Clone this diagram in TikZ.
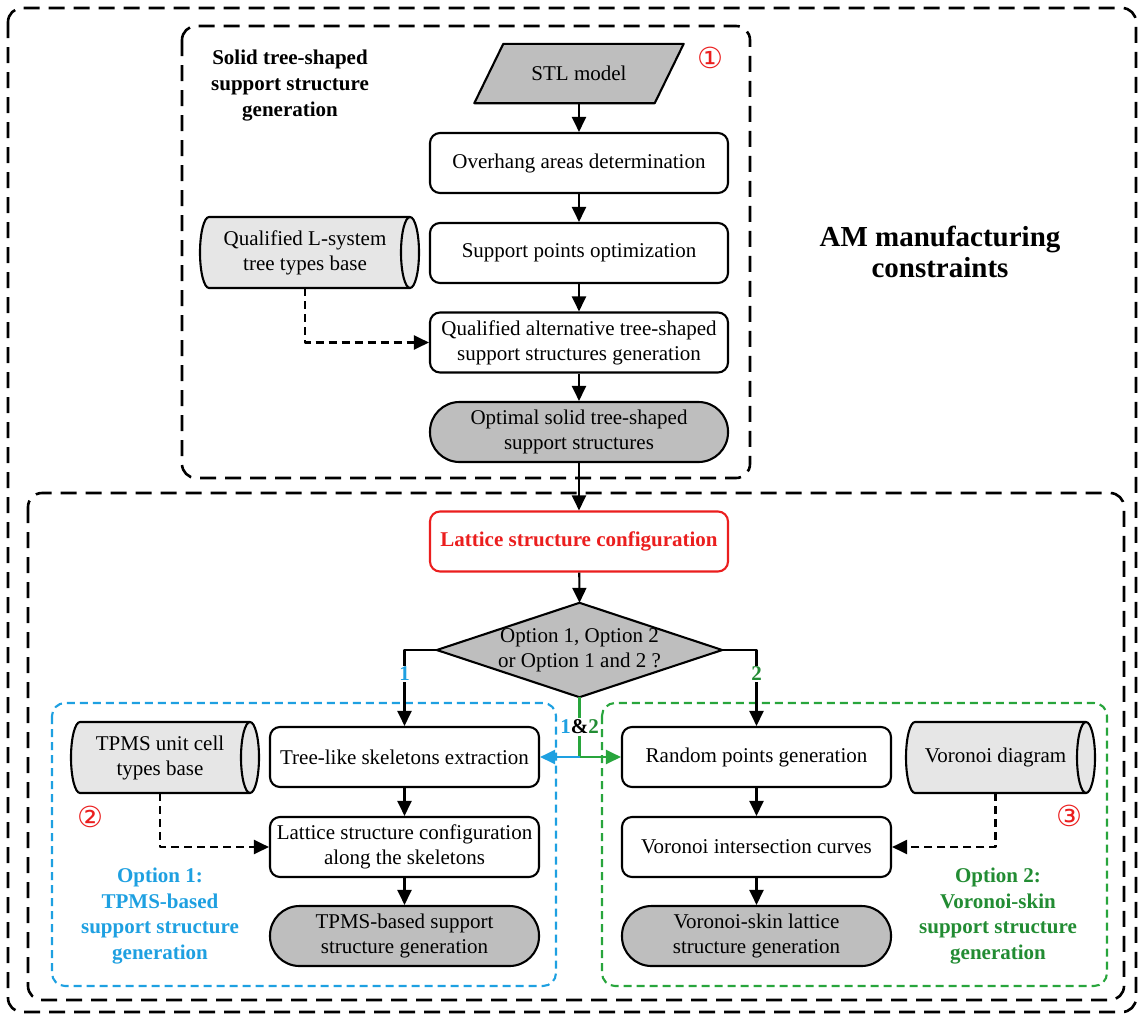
\documentclass[tikz,border=0pt]{standalone}
\usepackage{fontspec}
\setmainfont{Liberation Serif}
\newfontfamily\symfont{DejaVu Sans}
\usetikzlibrary{arrows.meta}
\definecolor{myblue}{RGB}{30,160,225}
\definecolor{mygreen}{RGB}{40,165,60}
\definecolor{myred}{RGB}{235,30,30}
\definecolor{dgray}{RGB}{190,190,190}
\definecolor{lgray}{RGB}{230,230,230}
\newcommand\drawcyl[4]{%
  \draw[cylst] ({#1-#3+9},{#2-#4}) -- ({#1+#3-9},{#2-#4})
    arc[start angle=90,end angle=-90,x radius=9pt,y radius=#4pt]
    -- ({#1-#3+9},{#2+#4})
    arc[start angle=270,end angle=90,x radius=9pt,y radius=#4pt] -- cycle;
  \draw[line width=2.1pt] ({#1+#3-9},{#2-#4})
    arc[start angle=90,end angle=270,x radius=9pt,y radius=#4pt];}
\begin{document}
\begin{tikzpicture}[x=1pt,y=-1pt,line join=round,
  txt/.style={font=\fontsize{21}{25}\selectfont, align=center, inner sep=0pt},
  proc/.style={txt, draw, line width=2.1pt, rounded corners=10pt, fill=white,
    minimum width=298pt, minimum height=60pt},
  procs/.style={proc, minimum width=269pt},
  term/.style={proc, fill=dgray, rounded corners=29.5pt},
  terms/.style={term, minimum width=269pt},
  holder/.style={inner sep=0pt, minimum width=#1, minimum height=71pt},
  arr/.style={line width=2.1pt, -{Triangle[length=15pt,width=14pt]}},
  darr/.style={arr, dash pattern=on 8pt off 5pt},
  bigbox/.style={line width=2.6pt, dash pattern=on 16pt off 9pt, rounded corners=14pt},
  optbox/.style={line width=2.1pt, dash pattern=on 8pt off 5pt, rounded corners=13pt},
  cylst/.style={fill=lgray, line width=2.1pt},
  num/.style={font=\symfont\fontsize{29}{29}\selectfont, text=myred, inner sep=0pt},
  lbl/.style={font=\fontsize{21}{25.5}\selectfont\bfseries, align=center, inner sep=0pt},
  tag/.style={font=\fontsize{21}{25}\selectfont\bfseries, fill=white, inner sep=1.5pt}]
\fill[white] (0,0) rectangle (1139,1017);
\useasboundingbox (0,0) rectangle (1139,1017);

% dashed frames
\draw[bigbox] (8,8) rectangle (1136,1012);
\draw[bigbox] (182,26) rectangle (750,478);
\draw[bigbox] (28,493) rectangle (1124,1000);
\draw[optbox, myblue] (52,703) rectangle (556,986);
\draw[optbox, mygreen] (602,703) rectangle (1107,986);

% titles
\node[lbl, font=\fontsize{21}{26}\selectfont\bfseries] (t1) at (290,86) {Solid tree-shaped\\support structure\\generation};
\node[lbl, font=\fontsize{29}{31}\selectfont\bfseries] (am) at (940,252) {AM manufacturing\\constraints};
\node[num] (n1) at (710,58) {①};
\node[num] (n2) at (90,817) {②};
\node[num] (n3) at (1069,816) {③};
\node[lbl, text=myblue] (o1) at (160,916) {Option 1:\\TPMS-based\\support structure\\generation};
\node[lbl, text=mygreen!85!black] (o2) at (998,916) {Option 2:\\Voronoi-skin\\support structure\\generation};

% upper flow
\node[inner sep=0pt, minimum width=209pt, minimum height=59pt] (stl) at (579,73.5) {};
\draw[line width=2.1pt, fill=dgray] ([xshift=29pt]stl.north west) -- (stl.north east)
  -- ([xshift=-29pt]stl.south east) -- (stl.south west) -- cycle;
\node[txt] (stltxt) at (stl.center) {STL model};
\node[proc] (ovh) at (579,163) {Overhang areas determination};
\node[proc] (spo) at (579,253) {Support points optimization};
\node[proc] (qual) at (579,342.5) {Qualified alternative tree-shaped\\support structures generation};
\node[term] (opt) at (579,432) {Optimal solid tree-shaped\\support structures};
\drawcyl{309.5}{252.5}{109.5}{35.5}
\node[txt, holder=200pt] (lsys) at (305,252.5) {Qualified L-system\\tree types base};

% lower flow
\node[proc, draw=myred, text=myred, font=\fontsize{21}{25}\selectfont\bfseries] (lat) at (579,541.5) {Lattice structure configuration};
\node[inner sep=0pt, minimum width=285pt, minimum height=94pt] (dec) at (579.5,650) {};
\draw[line width=2.1pt, fill=dgray] (dec.north) -- (dec.east) -- (dec.south) -- (dec.west) -- cycle;
\node[txt] (dectxt) at (dec.center) {Option 1, Option 2\\or Option 1 and 2 ?};

\node[procs] (tree) at (404.5,757) {Tree-like skeletons extraction};
\node[procs] (lcs) at (404.5,847) {Lattice structure configuration\\along the skeletons};
\node[terms] (tpmsg) at (404.5,936) {TPMS-based support\\structure generation};
\drawcyl{165}{757.5}{94}{35.5}
\node[txt, holder=180pt] (tpms) at (160,757.5) {TPMS unit cell\\types base};

\node[procs] (rand) at (756.5,757) {Random points generation};
\node[procs] (vic) at (756.5,847) {Voronoi intersection curves};
\node[terms] (vsk) at (756.5,936) {Voronoi-skin lattice\\structure generation};
\drawcyl{1000.5}{757.5}{94.5}{35.5}
\node[txt, holder=180pt] (vor) at (995.5,757.5) {Voronoi diagram};

% connectors
\draw[arr] (stl.south) -- (ovh);
\draw[arr] (ovh) -- (spo);
\draw[arr] (spo) -- (qual);
\draw[arr] (qual) -- (opt);
\draw[darr] (lsys.south) |- (qual.west);
\draw[arr] (opt) -- (lat);
\draw[arr] (lat) -- (dec.north);
\draw[arr] (dec.west) -| (tree.north);
\draw[arr] (dec.east) -| (rand.north);
\coordinate (junc) at (579.5,757);
\draw[line width=2.1pt, mygreen] (dec.south) -- (junc);
\draw[arr, myblue] (junc) -- (tree.east);
\draw[arr, mygreen] (junc) -- (rand.west);
\draw[arr] (tree) -- (lcs);
\draw[arr] (lcs) -- (tpmsg);
\draw[darr] (tpms.south) |- (lcs.west);
\draw[arr] (rand) -- (vic);
\draw[arr] (vic) -- (vsk);
\draw[darr] (vor.south) |- (vic.east);

% branch labels
\node[tag, text=myblue] (l1) at (404.5,674) {1};
\node[tag, text=mygreen!85!black] (l2) at (756.5,674) {2};
\node[tag] (l12) at (579.5,727) {\textcolor{myblue}{1}\&\textcolor{mygreen!85!black}{2}};
\end{tikzpicture}
\end{document}
